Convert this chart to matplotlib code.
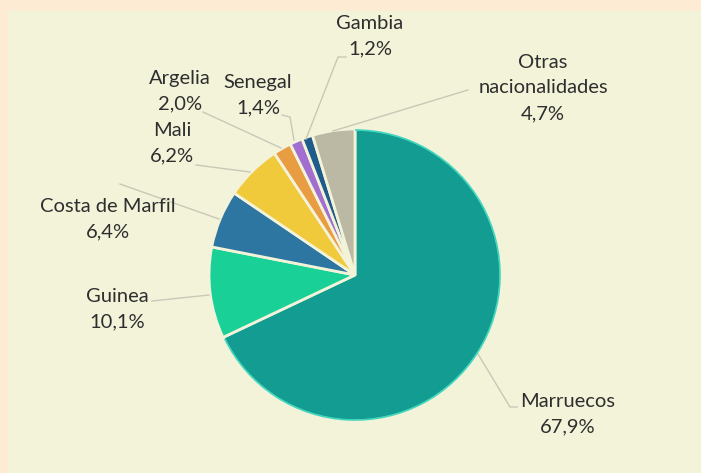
import matplotlib
matplotlib.use("Agg")
import matplotlib.pyplot as plt
from matplotlib.patches import Rectangle, Arc

categories = ["Marruecos", "Guinea", "Costa de Marfil", "Mali", "Argelia",
              "Senegal", "Gambia", "Otras\nnacionalidades"]
values = [67.9, 10.1, 6.4, 6.2, 2.0, 1.4, 1.2, 4.7]
labels_pct = ["67,9%", "10,1%", "6,4%", "6,2%", "2,0%", "1,4%", "1,2%", "4,7%"]
colors = ["#139c92", "#19d197", "#2d76a1", "#f0ca3a", "#e89d42",
          "#a26fd0", "#1f5b8b", "#bbb8a4"]

# label text centres (pixel coords, top-left origin)
label_pos = [(568, 414), (117, 309), (108, 219), (172, 143), (180, 91),
             (258, 95), (370, 36), (543, 88)]
# leader lines: lists of pixel points
leaders = [
    [(478, 354), (510, 407), (517, 407)],
    [(209, 295), (152, 301)],
    [(219, 219), (120, 184)],
    [(250, 172), (196, 165)],
    [(281, 148), (203, 112)],
    [(294, 140), (290, 117), (282, 115)],
    [(306, 139), (338, 57), (346, 57)],
    [(333, 131), (468, 90)],
]

W, H = 701, 473
bg_outer = "#fdebd4"
bg_inner = "#f3f3da"

fig = plt.figure(figsize=(W / 100, H / 100), dpi=100, facecolor=bg_outer)
ax = fig.add_axes([0, 0, 1, 1])
ax.set_xlim(0, W)
ax.set_ylim(0, H)
ax.set_aspect("equal")
ax.axis("off")

ax.add_patch(Rectangle((8, 0), W - 8, H - 11, facecolor=bg_inner,
                       edgecolor="none", zorder=0))

cx, cy, r = 355, H - 275, 146
wedges, _ = ax.pie(values, colors=colors, startangle=90, counterclock=False,
                   center=(cx, cy), radius=r, frame=True,
                   wedgeprops=dict(edgecolor=bg_inner, linewidth=2))
ax.set_xlim(0, W)
ax.set_ylim(0, H)
ax.axis("off")

# lighter rim on Marruecos
th1, th2 = 90 - values[0] * 3.6, 90
ax.add_patch(Arc((cx, cy), 2 * r - 2, 2 * r - 2, theta1=th1 + 0.6, theta2=th2,
                 color="#3fd6bc", lw=1.2, zorder=5))

for pts in leaders:
    xs = [p[0] for p in pts]
    ys = [H - p[1] for p in pts]
    ax.plot(xs, ys, color="#c9c8b6", lw=1.0, zorder=1)

for cat, pct, (x, y) in zip(categories, labels_pct, label_pos):
    ax.text(x, H - y, f"{cat}\n{pct}", ha="center", va="center",
            fontsize=14.5, color="#2e2e2e", family="Lato", linespacing=1.6,
            zorder=6)

fig.savefig("out.png", dpi=100, facecolor=bg_outer)
